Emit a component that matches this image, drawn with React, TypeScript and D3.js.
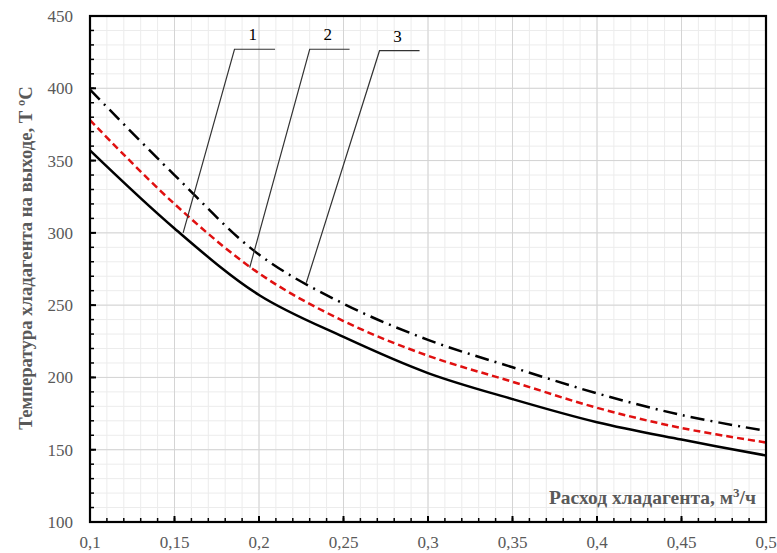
import React from "react";
import * as d3 from "d3";

const flow = [0.1, 0.15, 0.2, 0.25, 0.3, 0.35, 0.4, 0.45, 0.5];
const curve1 = [357, 303, 257, 228, 203, 185, 169, 157, 146];
const curve2 = [378, 320, 272, 239, 215, 197, 179, 165, 155];
const curve3 = [399, 340, 285, 251, 226, 207, 189, 174, 163];
const xTicks = [0.1, 0.15, 0.2, 0.25, 0.3, 0.35, 0.4, 0.45, 0.5];
const yTicks = [100, 150, 200, 250, 300, 350, 400, 450];
// leader annotations (data units): point on curve, elbow, end of shelf
const leaders = [
  { label: "1", px: 0.1551, py: 300, ex: 0.1855, ey: 427, tx: 0.2095 },
  { label: "2", px: 0.1945, py: 276, ex: 0.23, ey: 427, tx: 0.2536 },
  { label: "3", px: 0.228, py: 265.5, ex: 0.2713, ey: 426, tx: 0.295 },
];

const W = 777;
const H = 553;
const M = { left: 90, right: 11, top: 16, bottom: 31 };

export default function App() {
  const x = d3.scaleLinear().domain([0.1, 0.5]).range([M.left, W - M.right]);
  const y = d3.scaleLinear().domain([100, 450]).range([H - M.bottom, M.top]);
  const line = d3
    .line<number>()
    .x((_, i) => x(flow[i]))
    .y((d) => y(d))
    .curve(d3.curveCatmullRom.alpha(0.5));

  const minorX = d3.range(0, 41).map((i) => 0.1 + i * 0.01);
  const minorY = d3.range(0, 36).map((i) => 100 + i * 10);
  const fmt = (v: number) => String(+v.toFixed(2)).replace(".", ",");
  const gray = "#595959";
  const serif = "'Liberation Serif', 'Times New Roman', serif";

  return (
    <svg
      width={W}
      height={H}
      style={{ position: "absolute", left: 0, top: 0, background: "#fff" }}
    >
      <rect x={0} y={0} width={W} height={H} fill="#fff" />
      {/* minor grid */}
      {minorX.map((v, i) => (
        <line key={"mx" + i} x1={x(v)} x2={x(v)} y1={y(100)} y2={y(450)} stroke="#ececec" strokeWidth={1} />
      ))}
      {minorY.map((v, i) => (
        <line key={"my" + i} x1={x(0.1)} x2={x(0.5)} y1={y(v)} y2={y(v)} stroke="#ececec" strokeWidth={1} />
      ))}
      {/* major grid */}
      {xTicks.map((v, i) => (
        <line key={"gx" + i} x1={x(v)} x2={x(v)} y1={y(100)} y2={y(450)} stroke="#d4d4d4" strokeWidth={1} />
      ))}
      {yTicks.map((v, i) => (
        <line key={"gy" + i} x1={x(0.1)} x2={x(0.5)} y1={y(v)} y2={y(v)} stroke="#d4d4d4" strokeWidth={1} />
      ))}
      {/* ticks inside */}
      {minorX.map((v, i) => (
        <line key={"tx" + i} x1={x(v)} x2={x(v)} y1={y(100)} y2={y(100) - 4} stroke="#000" strokeWidth={1.5} />
      ))}
      {minorY.map((v, i) => (
        <line key={"ty" + i} x1={x(0.1)} x2={x(0.1) + 4} y1={y(v)} y2={y(v)} stroke="#000" strokeWidth={1.5} />
      ))}
      {xTicks.map((v, i) => (
        <line key={"Tx" + i} x1={x(v)} x2={x(v)} y1={y(100)} y2={y(100) - 6} stroke="#000" strokeWidth={2} />
      ))}
      {yTicks.map((v, i) => (
        <line key={"Ty" + i} x1={x(0.1)} x2={x(0.1) + 6} y1={y(v)} y2={y(v)} stroke="#000" strokeWidth={2} />
      ))}
      {/* curves */}
      <path d={line(curve1) || ""} fill="none" stroke="#000" strokeWidth={2.5} />
      <path d={line(curve2) || ""} fill="none" stroke="#e01010" strokeWidth={2.5} strokeDasharray="7,4" />
      <path d={line(curve3) || ""} fill="none" stroke="#000" strokeWidth={2.5} strokeDasharray="14,6,2,6" />
      {/* leaders */}
      {leaders.map((l) => (
        <g key={l.label}>
          <polyline
            points={`${x(l.px)},${y(l.py)} ${x(l.ex)},${y(l.ey)} ${x(l.tx)},${y(l.ey)}`}
            fill="none"
            stroke="#333"
            strokeWidth={1.2}
          />
          <text
            x={(x(l.ex) + x(l.tx)) / 2 - 2}
            y={y(l.ey) - 9}
            textAnchor="middle"
            fontFamily={serif}
            fontSize={17}
            fill="#000"
          >
            {l.label}
          </text>
        </g>
      ))}
      {/* frame */}
      <rect
        x={x(0.1)}
        y={y(450)}
        width={x(0.5) - x(0.1)}
        height={y(100) - y(450)}
        fill="none"
        stroke="#000"
        strokeWidth={2.2}
      />
      {/* tick labels */}
      {xTicks.map((v, i) => (
        <text key={"lx" + i} x={x(v)} y={y(100) + 26} textAnchor="middle" fontFamily={serif} fontSize={17} fill={gray}>
          {fmt(v)}
        </text>
      ))}
      {yTicks.map((v, i) => (
        <text key={"ly" + i} x={x(0.1) - 17} y={y(v) + 6} textAnchor="end" fontFamily={serif} fontSize={17} fill={gray}>
          {v}
        </text>
      ))}
      {/* axis titles */}
      <text
        transform={`translate(32, ${(y(100) + y(450)) / 2 - 11}) rotate(-90)`}
        textAnchor="middle"
        fontFamily={serif}
        fontSize={18.7}
        fontWeight="bold"
        fill={gray}
      >
        Температура хладагента на выходе, Т ºC
      </text>
      <text
        x={x(0.5) - 10}
        y={y(100) - 18}
        textAnchor="end"
        fontFamily={serif}
        fontSize={19.5}
        fontWeight="bold"
        fill={gray}
      >
        Расход хладагента, м
        <tspan dy={-7} fontSize={13}>3</tspan>
        <tspan dy={7}>/ч</tspan>
      </text>
    </svg>
  );
}
